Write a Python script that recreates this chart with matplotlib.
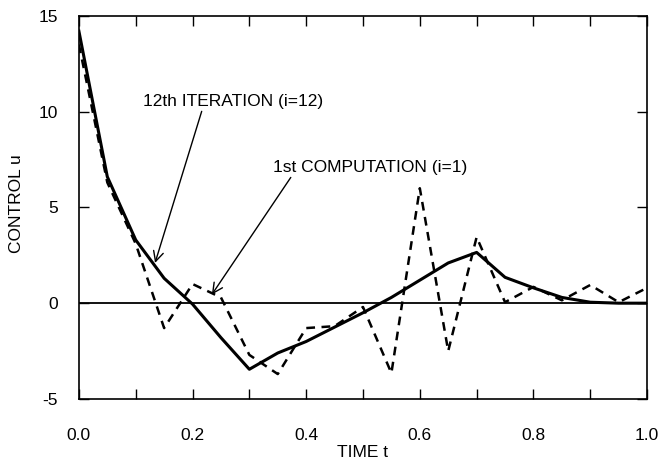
import matplotlib.pyplot as plt
import numpy as np

plt.rcParams['font.family'] = ['Liberation Sans', 'DejaVu Sans']
plt.rcParams['axes.unicode_minus'] = False

# time grid and the two control histories
t = [0.0, 0.05, 0.10, 0.15, 0.20, 0.25, 0.30, 0.35, 0.40, 0.45, 0.50,
     0.55, 0.60, 0.65, 0.70, 0.75, 0.80, 0.85, 0.90, 0.95, 1.00]
u_iter12 = [14.2, 6.6, 3.3, 1.3, -0.05, -1.8, -3.45, -2.6, -2.0, -1.25, -0.5,
            0.3, 1.2, 2.1, 2.65, 1.35, 0.8, 0.3, 0.05, 0.0, 0.0]
u_first = [13.5, 6.3, 3.1, -1.3, 1.0, 0.3, -2.7, -3.7, -1.3, -1.2, -0.2,
           -3.65, 6.0, -2.5, 3.45, 0.05, 0.85, 0.15, 0.95, 0.05, 0.8]

xticks = [0.0, 0.2, 0.4, 0.6, 0.8, 1.0]
yticks = [-5, 0, 5, 10, 15]

fig = plt.figure(figsize=(6.63, 4.65), dpi=100)
ax = fig.add_axes([0.119, 0.142, 0.857, 0.824])

ax.axhline(0, color='black', lw=1.3)
ax.plot(t, u_iter12, color='black', lw=2.2)
ax.plot(t, u_first, color='black', lw=1.8, ls=(0, (3.5, 2.6)))

ax.set_xlim(0, 1.0)
ax.set_ylim(-5, 15)
ax.set_xticks(xticks)
ax.set_xticklabels(['%.1f' % v for v in xticks])
ax.set_xticks(np.arange(0.1, 1.0, 0.2), minor=True)
ax.set_yticks(yticks)
ax.tick_params(which='both', direction='in', top=True, right=True,
               length=7, width=1, labelsize=12.5)
ax.tick_params(axis='x', which='major', pad=21)
ax.tick_params(axis='y', which='major', pad=15)
for s in ax.spines.values():
    s.set_linewidth(1.2)

ax.set_xlabel('TIME t', fontsize=12.5, va='center')
ax.xaxis.set_label_coords(0.5, -0.141)
ax.set_ylabel('CONTROL u', fontsize=12.5, va='center')
ax.yaxis.set_label_coords(-0.109, 0.51)

ax.annotate('12th ITERATION (i=12)', xy=(0.134, 2.1), xytext=(0.113, 10.55),
            fontsize=12.5, va='center', ha='left',
            arrowprops=dict(arrowstyle='->', color='black', lw=1,
                            mutation_scale=18, shrinkA=0, shrinkB=0,
                            relpos=(0.33, 0.0)))
ax.annotate('1st COMPUTATION (i=1)', xy=(0.234, 0.45), xytext=(0.342, 7.1),
            fontsize=12.5, va='center', ha='left',
            arrowprops=dict(arrowstyle='->', color='black', lw=1,
                            mutation_scale=18, shrinkA=0, shrinkB=0,
                            relpos=(0.1, 0.0)))

plt.savefig('out.png', dpi=100)
